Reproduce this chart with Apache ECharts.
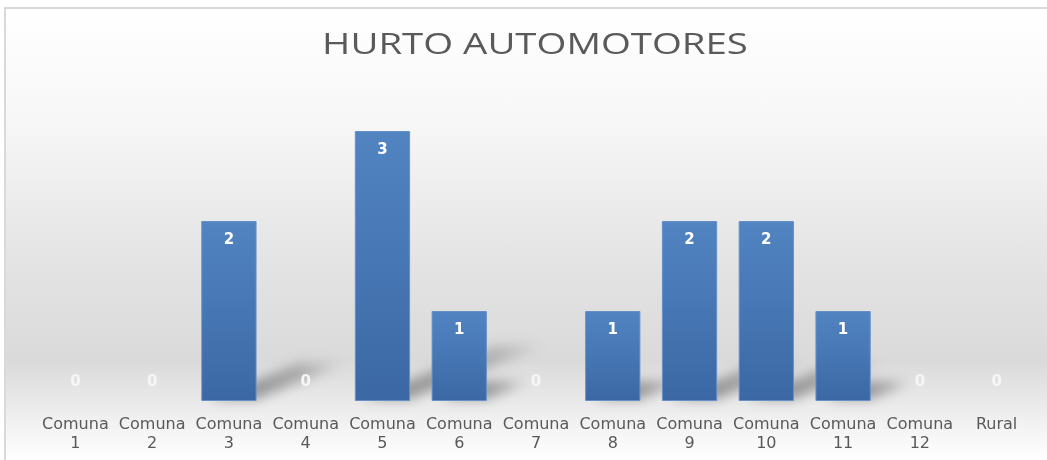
<!DOCTYPE html>
<html lang="es">
<head>
    <meta charset="UTF-8">
    <title>Hurto automotores</title>
    <script src="https://cdn.jsdelivr.net/npm/echarts@6/dist/echarts.min.js"></script>
    <style>
        html, body { margin: 0; padding: 0; background: #fff; }
        #frame {
            position: absolute; left: 4px; top: 7px;
            width: 1043px; height: 453px;
            border-top: 2px solid #d9d9d9;
            border-left: 2px solid #d9d9d9;
            box-sizing: border-box;
            background: linear-gradient(to bottom, #ffffff 0%, #f7f7f7 25%, #e4e4e4 55%, #dadada 78%, #f2f2f2 92%, #ffffff 100%);
        }
        #main { position: absolute; left: 0; top: 0; width: 1047px; height: 460px; }
    </style>
</head>
<body>
    <div id="frame"></div>
    <div id="main"></div>
    <script>
        var titleText = 'HURTO AUTOMOTORES';
        var categories = ['Comuna\n1', 'Comuna\n2', 'Comuna\n3', 'Comuna\n4', 'Comuna\n5', 'Comuna\n6',
            'Comuna\n7', 'Comuna\n8', 'Comuna\n9', 'Comuna\n10', 'Comuna\n11', 'Comuna\n12', 'Rural'];
        var values = [0, 0, 2, 0, 3, 1, 0, 1, 2, 2, 1, 0, 0];

        var chart = echarts.init(document.getElementById('main'));

        // zero bars: no outline, label sits just above the baseline
        var barData = values.map(function (v) {
            if (v === 0) {
                return {
                    value: v,
                    itemStyle: { borderWidth: 0 },
                    label: { position: 'top', distance: 11, color: '#f6f6f6' }
                };
            }
            return v;
        });

        // soft floor shadow cast by each bar: the shape itself is drawn off to the
        // left, only its blurred canvas shadow lands next to the bar
        var OFF = 1500;
        function renderShadow(params, api) {
            var v = api.value(1);
            if (!v) return null;
            var base = api.coord([api.value(0), 0]);
            var top = api.coord([api.value(0), v]);
            var h = base[1] - top[1];
            var w = api.size([1, 0])[0] * 0.72;
            var x0 = base[0] - w / 2 - OFF, x1 = base[0] + w / 2 - OFF, y0 = base[1] - 2;
            var dx = h * 0.5, dy = h * 0.2;
            return {
                type: 'polygon',
                shape: { points: [[x0 + 8, y0], [x1, y0], [x1 + dx, y0 - dy], [x0 + dx + 8, y0 - dy]] },
                style: {
                    fill: new echarts.graphic.LinearGradient(x1, y0, x1 + dx, y0 - dy, [
                        { offset: 0, color: 'rgba(0,0,0,1)' },
                        { offset: 0.5, color: 'rgba(0,0,0,0.7)' },
                        { offset: 1, color: 'rgba(0,0,0,0.1)' }
                    ], true),
                    shadowBlur: 12,
                    shadowOffsetX: OFF,
                    shadowColor: 'rgba(70,70,70,0.5)'
                }
            };
        }

        chart.setOption({
            backgroundColor: 'transparent',
            animation: false,
            graphic: [{
                type: 'text',
                x: 535,
                y: 45,
                scaleX: 1.28,
                style: {
                    text: titleText,
                    fontFamily: 'Open Sans',
                    fontSize: 30,
                    fill: '#5a5a5a',
                    align: 'center',
                    verticalAlign: 'middle'
                }
            }],
            grid: { left: 37, right: 12, top: 131, bottom: 59 },
            xAxis: {
                type: 'category',
                data: categories,
                axisLine: { show: false },
                axisTick: { show: false },
                axisLabel: {
                    interval: 0,
                    margin: 14,
                    fontFamily: 'DejaVu Sans',
                    fontSize: 16,
                    lineHeight: 19,
                    color: '#595959'
                }
            },
            yAxis: {
                type: 'value',
                min: 0,
                max: 3,
                show: false
            },
            series: [{
                type: 'custom',
                renderItem: renderShadow,
                data: values.map(function (v, i) { return [i, v]; }),
                clip: false,
                z: 1,
                silent: true
            }, {
                type: 'bar',
                data: barData,
                z: 2,
                barCategoryGap: '28%',
                itemStyle: {
                    color: new echarts.graphic.LinearGradient(0, 0, 0, 1, [
                        { offset: 0, color: '#5284c2' },
                        { offset: 1, color: '#3b68a5' }
                    ]),
                    borderColor: '#6690c8',
                    borderWidth: 1
                },
                label: {
                    show: true,
                    position: 'insideTop',
                    distance: 12,
                    color: '#ffffff',
                    fontWeight: 'bold',
                    fontSize: 15,
                    fontFamily: 'DejaVu Sans'
                }
            }]
        });
    </script>
</body>
</html>
